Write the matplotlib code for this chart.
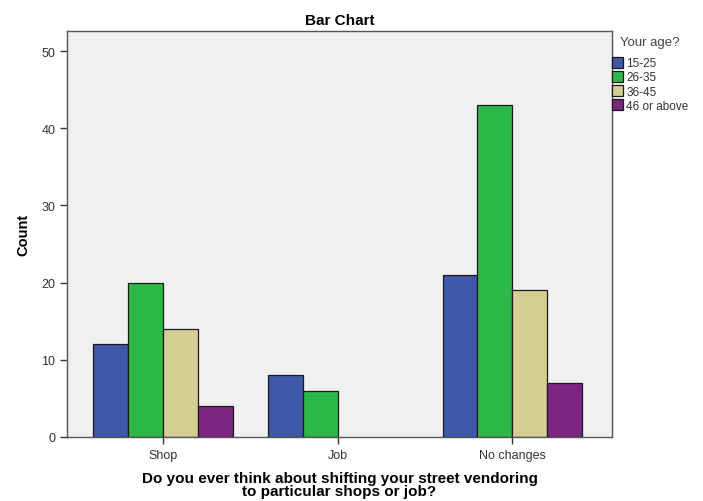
import matplotlib
matplotlib.use("Agg")
import matplotlib.pyplot as plt
import numpy as np

categories = ["Shop", "Job", "No changes"]
age_groups = ["15-25", "26-35", "36-45", "46 or above"]
values_1525 = [12, 8, 21]
values_2635 = [20, 6, 43]
values_3645 = [14, 0, 19]
values_46up = [4, 0, 7]
series = [values_1525, values_2635, values_3645, values_46up]
colors = ["#3E58AC", "#2DB84A", "#D4CE94", "#7B2681"]

plt.rcParams['font.family'] = ['Liberation Sans', 'DejaVu Sans']

fig = plt.figure(figsize=(7.03, 5.02), dpi=100)
ax = fig.add_axes([67/703, 1-438/502, (612-67)/703, (438-32)/502])
ax.set_facecolor("#F0F0F0")

x = np.arange(len(categories))
w = 0.2
for i, (vals, c, lab) in enumerate(zip(series, colors, age_groups)):
    lws = [0.9 if v > 0 else 0 for v in vals]
    ax.bar(x + (i - 1.5) * w, vals, width=w, color=c, edgecolor="#1a1a1a",
           linewidth=lws, label=lab, zorder=2)

ax.set_xlim(-0.55, 2.57)
ax.set_ylim(0, 52.6)
ax.set_yticks([0, 10, 20, 30, 40, 50])
ax.set_xticks(x)
ax.set_xticklabels(categories)
ax.tick_params(axis="both", direction="out", length=5, width=1, colors="#333333",
               labelsize=9, labelcolor="#333333")
for s in ax.spines.values():
    s.set_color("#555555")
    s.set_linewidth(1.0)

ax.set_ylabel("Count", fontsize=10.5, fontweight="bold", labelpad=8)
ax.set_xlabel("Do you ever think about shifting your street vendoring\nto particular shops or job?",
              fontsize=11, fontweight="bold", labelpad=7, linespacing=0.95)
ax.set_title("Bar Chart", fontsize=11, fontweight="bold", pad=5)

fig.text(620/703, 1-43/502, "Your age?", fontsize=9.5, color="#444444",
         ha="left", va="center")
leg = ax.legend(loc="upper left", bbox_to_anchor=(1.0, 1-(58-32)/406), frameon=False,
                fontsize=8.5, handlelength=0.95, handleheight=1.0, handletextpad=0.25,
                labelspacing=0.15, borderaxespad=0, borderpad=0)
for t in leg.get_texts():
    t.set_color("#333333")

fig.savefig("out.png", dpi=100)
